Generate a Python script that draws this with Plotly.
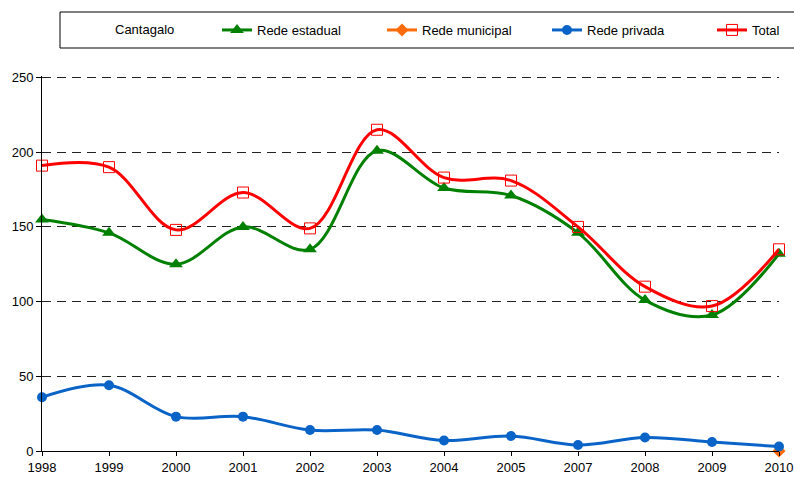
import plotly.graph_objects as go

years = ["1998", "1999", "2000", "2001", "2002", "2003", "2004", "2005", "2007", "2008", "2009", "2010"]
rede_estadual = [155, 146, 125, 150, 135, 201, 176, 171, 146, 101, 91, 132]
rede_municipal = [None, None, None, None, None, None, None, None, None, None, None, 0]
rede_privada = [36, 44, 23, 23, 14, 14, 7, 10, 4, 9, 6, 3]
total = [191, 190, 148, 173, 149, 215, 183, 181, 150, 110, 97, 135]
y_ticks = [0, 50, 100, 150, 200, 250]

W, H = 794, 477
ML, MR, MT, MB = 42, 15, 76, 26
PW = W - ML - MR
PH = H - MT - MB
Y_MAX = 251  # a touch above 250 so the top grid line is not clipped


def px_x(p):  # page pixel -> paper x
    return (p - ML) / PW


def px_y(p):  # page pixel -> paper y
    return 1 + (MT - p) / PH


fig = go.Figure()
fig.add_trace(go.Scatter(
    x=years, y=rede_estadual, name="Rede estadual", mode="lines+markers",
    line=dict(color="#008000", width=3, shape="spline", smoothing=1),
    marker=dict(symbol="triangle-up", size=12, color="#008000"),
    cliponaxis=False))
fig.add_trace(go.Scatter(
    x=years, y=rede_municipal, name="Rede municipal", mode="lines+markers",
    line=dict(color="#FF6A0A", width=3, shape="spline", smoothing=1),
    marker=dict(symbol="diamond", size=10, color="#FF6A0A"),
    cliponaxis=False))
fig.add_trace(go.Scatter(
    x=years, y=rede_privada, name="Rede privada", mode="lines+markers",
    line=dict(color="#0A64C8", width=3, shape="spline", smoothing=1),
    marker=dict(symbol="circle", size=10, color="#0A64C8"),
    cliponaxis=False))
fig.add_trace(go.Scatter(
    x=years, y=total, name="Total", mode="lines+markers",
    line=dict(color="#FF0000", width=3, shape="spline", smoothing=1),
    marker=dict(symbol="square-open", size=11, color="#FF0000", line=dict(width=1)),
    cliponaxis=False))

fig.update_layout(
    width=W, height=H,
    margin=dict(l=ML, r=MR, t=MT, b=MB, autoexpand=False),
    paper_bgcolor="white", plot_bgcolor="white",
    font=dict(family="Liberation Sans, Arial, sans-serif", size=13, color="black"),
    showlegend=True,
    legend=dict(
        orientation="h", xref="container", yref="container",
        x=217 / W, xanchor="left", y=1 - 30 / H, yanchor="middle",
        entrywidth=120, entrywidthmode="pixels", font=dict(size=13),
        bgcolor="rgba(0,0,0,0)", borderwidth=0, traceorder="normal"),
    shapes=[dict(type="rect", xref="paper", yref="paper",
                 x0=px_x(60), x1=px_x(796), y0=px_y(48), y1=px_y(12),
                 line=dict(color="black", width=1))],
    annotations=[dict(text="Cantagalo", xref="paper", yref="paper",
                      x=px_x(113), y=px_y(30), xanchor="left", yanchor="middle",
                      showarrow=False, font=dict(size=13))],
    xaxis=dict(type="category", categoryorder="array", categoryarray=years,
               range=[0, len(years) - 1], showline=True, linecolor="black", linewidth=1,
               ticks="outside", ticklen=4, tickcolor="black", showgrid=False,
               tickfont=dict(size=13), automargin=False),
    yaxis=dict(range=[0, Y_MAX], tickvals=y_ticks, showline=True, linecolor="black",
               linewidth=1, ticks="outside", ticklen=5, tickcolor="black",
               showgrid=True, gridcolor="#222222", gridwidth=1, griddash="9px,6px",
               zeroline=False, tickfont=dict(size=13), automargin=False),
    xaxis2=dict(type="category", categoryorder="array", categoryarray=years,
                range=[0, len(years) - 1], overlaying="x", side="bottom",
                ticks="inside", ticklen=4, tickcolor="black", showticklabels=False,
                showgrid=False, showline=False, zeroline=False, automargin=False),
    yaxis2=dict(range=[0, Y_MAX], tickvals=y_ticks, overlaying="y", side="left",
                ticks="inside", ticklen=4, tickcolor="black", showticklabels=False,
                showgrid=False, showline=False, zeroline=False, automargin=False),
)

fig.write_html("out.html",
               config={"displayModeBar": False},
               post_script="document.body.style.margin='0px';"
                           "document.body.style.overflow='hidden';")
